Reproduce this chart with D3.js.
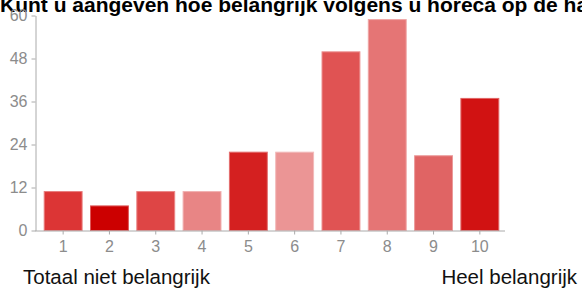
<!DOCTYPE html>
<html>
<head>
<meta charset="utf-8">
<style>
    body { margin: 0; background: #fff; }
    svg { display: block; font-family: Arial, 'Liberation Sans', sans-serif; }
    .title { font-size: 21px; font-weight: bold; fill: #000; }
    .axis .tick text { font-size: 16px; fill: #8c8c8c; }
    .axis .tick line { stroke: #aaa; }
    .axis .domain { stroke: #aaa; }
    .end-label { font-size: 20.5px; fill: #111; }
</style>
</head>
<body>
<svg width="582" height="297"></svg>
<script src="https://d3js.org/d3.v7.min.js"></script>
<script>
// answers 1..10 and how many people picked each
let categories = ["1", "2", "3", "4", "5", "6", "7", "8", "9", "10"]
let counts = [11, 7, 11, 11, 22, 22, 50, 59, 21, 37]
let barColors = ["#dc3535", "#cc0000", "#de4545", "#e88585", "#d42020",
                 "#eb9595", "#e05353", "#e57575", "#e06464", "#d11212"]
let yTicks = [0, 12, 24, 36, 48, 60]

let svg = d3.select("svg")

let x = d3.scaleBand()
    .domain(categories)
    .range([40, 503])
    .paddingInner(0.16)
    .paddingOuter(0.08)

let y = d3.scaleLinear()
    .domain([0, 60])
    .range([230.5, 15.5])

// title runs off the top and right edge, like the original
svg.append("text")
    .attr("class", "title")
    .attr("x", 0)
    .attr("y", 12)
    .text("Kunt u aangeven hoe belangrijk volgens u horeca op de haven is?")

svg.append("g")
    .selectAll("rect")
    .data(counts)
    .join("rect")
    .attr("x", (d, i) => x(categories[i]) + 0.5)
    .attr("y", d => y(d) + 0.5)
    .attr("width", x.bandwidth() - 1)
    .attr("height", d => y(0) - y(d) - 0.5)
    .attr("fill", (d, i) => barColors[i])
    .attr("stroke", (d, i) => d3.interpolateRgb(barColors[i], "#fff")(0.35))
    .attr("stroke-width", 1)

svg.append("g")
    .attr("class", "axis y")
    .attr("transform", "translate(35.5,0)")
    .call(d3.axisLeft(y).tickValues(yTicks).tickSize(4).tickPadding(4).tickSizeOuter(0))

svg.append("g")
    .attr("class", "axis x")
    .attr("transform", `translate(0,${y(0)})`)
    .call(d3.axisBottom(x).tickSize(4).tickPadding(6).tickSizeOuter(0))
    .call(g => g.select(".domain").attr("d", "M35,0.5H505"))

svg.append("text")
    .attr("class", "end-label")
    .attr("x", 23)
    .attr("y", 284)
    .text("Totaal niet belangrijk")

svg.append("text")
    .attr("class", "end-label")
    .attr("x", 577)
    .attr("y", 284)
    .attr("text-anchor", "end")
    .text("Heel belangrijk")
</script>
</body>
</html>
